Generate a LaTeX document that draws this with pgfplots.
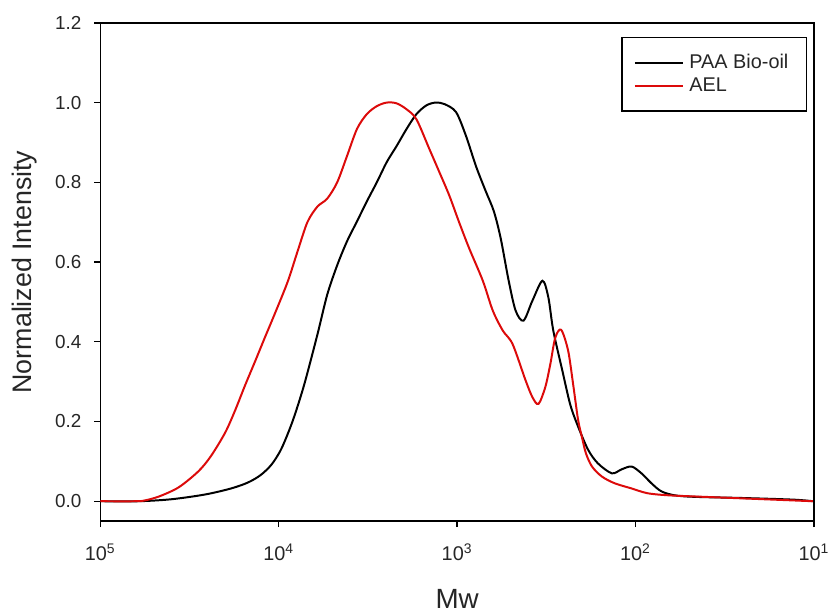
\documentclass[border=0pt]{standalone}
\usepackage{fontspec}
\setmainfont{Liberation Sans}
\usepackage{pgfplots}
\pgfplotsset{compat=1.18}
\definecolor{aelred}{RGB}{220,10,10}

\begin{document}
\begin{tikzpicture}
\begin{axis}[
    scale only axis,
    width=359.5pt,
    height=251pt,
    xmin=1, xmax=5,
    x dir=reverse,
    ymin=-0.05, ymax=1.2,
    xtick={5,4,3,2,1},
    xticklabels={10\textsuperscript{5},10\textsuperscript{4},10\textsuperscript{3},10\textsuperscript{2},10\textsuperscript{1}},
    ytick={0,0.2,0.4,0.6,0.8,1.0,1.2},
    /pgf/number format/assume math mode=true,
    yticklabel style={/pgf/number format/fixed, /pgf/number format/zerofill, /pgf/number format/precision=1},
    tick align=outside,
    major tick length=3pt,
    xtick pos=bottom,
    ytick pos=left,
    axis line style={line width=0.7pt},
    tick style={line width=0.7pt, black},
    tick label style={text=black!85},
    xticklabel style={font=\fontsize{10pt}{12pt}\selectfont, yshift=-5pt},
    yticklabel style={font=\fontsize{9.5pt}{11pt}\selectfont, xshift=-3pt},
    xlabel={Mw},
    ylabel={Normalized Intensity},
    label style={text=black!85},
    xlabel style={font=\fontsize{14pt}{16pt}\selectfont, at={(axis description cs:0.5,0)}, anchor=center, yshift=-39pt},
    ylabel style={font=\fontsize{13.5pt}{16pt}\selectfont, at={(axis description cs:-0.106,0.5)}, anchor=center},
    legend style={at={(0.99,0.972)}, anchor=north east, draw=black, line width=0.6pt,
        font=\fontsize{10pt}{11pt}\selectfont, inner xsep=6pt, inner ysep=7pt,
        row sep=0pt,
        nodes={inner ysep=1.5pt, inner xsep=3pt, text=black!85}},
    legend cell align=left,
    legend image code/.code={\draw[#1] (0pt,0pt) -- (24pt,0pt);},
]
\addplot[black, line width=1pt, smooth, tension=0.5] coordinates {
(5.000,0) (4.783,0) (4.600,0.005) (4.411,0.017) (4.267,0.032) (4.172,0.047)
(4.100,0.066) (4.040,0.092) (3.990,0.127) (3.950,0.168) (3.911,0.215) (3.856,0.294)
(3.783,0.418) (3.728,0.518) (3.672,0.592) (3.617,0.652) (3.561,0.702)
(3.506,0.752) (3.450,0.800) (3.394,0.851) (3.339,0.891) (3.283,0.934)
(3.228,0.971) (3.172,0.993) (3.120,1.0) (3.070,0.996) (3.006,0.976)
(2.950,0.916) (2.894,0.84) (2.839,0.777) (2.794,0.727) (2.756,0.66)
(2.711,0.553) (2.672,0.478) (2.628,0.453) (2.578,0.503) (2.522,0.553)
(2.489,0.512) (2.461,0.428) (2.411,0.329) (2.367,0.244) (2.328,0.194)
(2.267,0.13) (2.211,0.095) (2.133,0.07) (2.078,0.08) (2.022,0.087)
(1.967,0.07) (1.911,0.045) (1.856,0.025) (1.783,0.015) (1.672,0.011)
(1.394,0.008) (1.117,0.004) (1.006,0.0)
};
\addlegendentry{PAA Bio-oil}
\addplot[aelred, line width=1pt, smooth, tension=0.5] coordinates {
(5.000,0) (4.800,0) (4.750,0.002) (4.670,0.012) (4.560,0.035) (4.450,0.075)
(4.380,0.113) (4.300,0.172) (4.244,0.228) (4.189,0.29) (4.133,0.35)
(4.078,0.41) (4.022,0.47) (3.950,0.55) (3.894,0.627) (3.839,0.70)
(3.783,0.739) (3.728,0.759) (3.672,0.80) (3.617,0.866) (3.561,0.934)
(3.506,0.971) (3.450,0.991) (3.394,1.0) (3.339,0.998) (3.283,0.983)
(3.228,0.958) (3.156,0.884) (3.100,0.826) (3.044,0.767) (2.989,0.70)
(2.933,0.635) (2.856,0.553) (2.800,0.478) (2.744,0.428) (2.689,0.394)
(2.617,0.304) (2.578,0.261) (2.544,0.244) (2.506,0.286) (2.478,0.343)
(2.450,0.41) (2.417,0.43) (2.378,0.378) (2.350,0.294) (2.322,0.204)
(2.300,0.16) (2.278,0.12) (2.244,0.087) (2.189,0.062) (2.117,0.045)
(2.022,0.032) (1.933,0.02) (1.822,0.015) (1.672,0.012) (1.394,0.007)
(1.006,0.0)
};
\addlegendentry{AEL}
\end{axis}
\path (current axis.south west) ++(-50.5pt,-43.5pt) rectangle ++(418pt,306pt);
\end{tikzpicture}
\end{document}
